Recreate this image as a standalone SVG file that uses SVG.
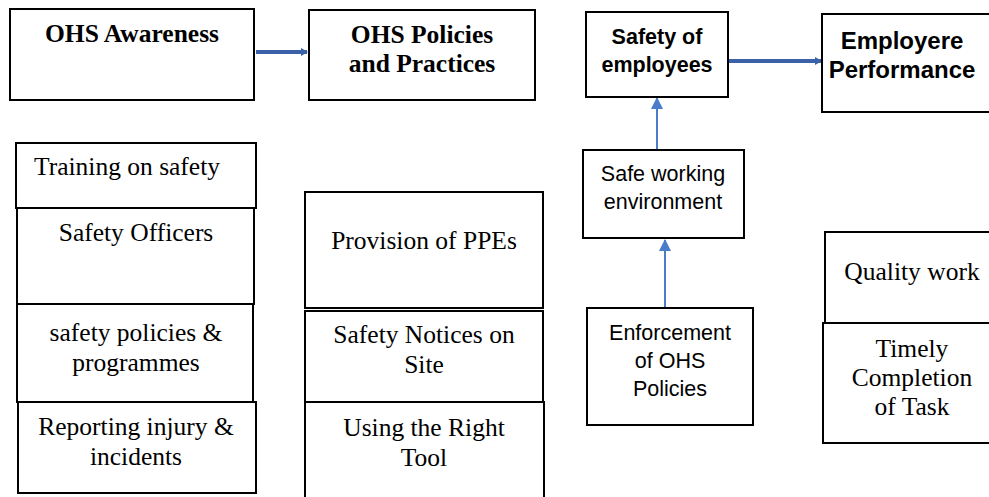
<svg xmlns="http://www.w3.org/2000/svg" width="989" height="497" viewBox="0 0 989 497">
<style>
.box{fill:#fff;stroke:#000;stroke-width:2}
.t{font-family:"Liberation Serif","Times New Roman",serif;font-size:25.5px;fill:#000;text-anchor:middle}
.b{font-weight:bold}
.s{font-family:"Liberation Sans",Arial,sans-serif;font-size:21.5px;fill:#000;text-anchor:middle}
.l{font-size:24px}
.thick{stroke:#3b62a8;stroke-width:4;fill:none}
.thin{stroke:#4a7cc9;stroke-width:2;fill:none}
</style>
<defs>
<marker id="ah" markerWidth="7" markerHeight="8" refX="6" refY="4" orient="auto" markerUnits="userSpaceOnUse"><path d="M0,0 L7,4 L0,8 Z" fill="#3b62a8"/></marker>
<marker id="ah2" markerWidth="12" markerHeight="12" refX="11" refY="6" orient="auto" markerUnits="userSpaceOnUse"><path d="M0,0 L12,6 L0,12 Z" fill="#4a7cc9"/></marker>
</defs>
<g id="connectors">
<line class="thick" x1="256" y1="52" x2="307" y2="52" marker-end="url(#ah)"/>
<line class="thick" x1="729" y1="61" x2="821" y2="61" marker-end="url(#ah)"/>
<line class="thin" x1="657" y1="150" x2="657" y2="98" marker-end="url(#ah2)"/>
<line class="thin" x1="665" y1="307" x2="665" y2="240" marker-end="url(#ah2)"/>
</g>
<g id="ohs-awareness"><rect class="box" x="10" y="9" width="244" height="91"/><text class="t b" x="132" y="42">OHS Awareness</text></g>
<g id="ohs-policies"><rect class="box" x="309" y="10" width="226" height="90"/><text class="t b" x="422" y="43">OHS Policies</text><text class="t b" x="422" y="72">and Practices</text></g>
<g id="safety-employees"><rect class="box" x="586" y="12" width="142" height="85"/><text class="s b" x="657" y="44">Safety of</text><text class="s b" x="657" y="72">employees</text></g>
<g id="employee-performance"><rect class="box" x="822" y="14" width="180" height="98"/><text class="s b l" x="902" y="49">Employere</text><text class="s b l" x="902" y="78">Performance</text></g>
<g id="safe-working"><rect class="box" x="583" y="150" width="161" height="88"/><text class="s" x="663" y="181">Safe working</text><text class="s" x="663" y="209">environment</text></g>
<g id="enforcement"><rect class="box" x="587" y="308" width="166" height="117"/><text class="s" x="670" y="340">Enforcement</text><text class="s" x="670" y="368">of OHS</text><text class="s" x="670" y="396">Policies</text></g>
<g id="quality-work"><rect class="box" x="825" y="232" width="180" height="91"/><text class="t" x="912" y="280">Quality work</text></g>
<g id="timely"><rect class="box" x="823" y="323" width="180" height="120"/><text class="t" x="912" y="357">Timely</text><text class="t" x="912" y="386">Completion</text><text class="t" x="912" y="415">of Task</text></g>
<g id="training"><rect class="box" x="16" y="143" width="240" height="65"/><text class="t" x="127" y="175">Training on safety</text></g>
<g id="safety-officers"><rect class="box" x="17" y="208" width="237" height="96"/><text class="t" x="136" y="241">Safety Officers</text></g>
<g id="safety-policies"><rect class="box" x="17" y="304" width="236" height="98"/><text class="t" x="136" y="341">safety policies &amp;</text><text class="t" x="136" y="371">programmes</text></g>
<g id="reporting"><rect class="box" x="18" y="402" width="238" height="91"/><text class="t" x="136" y="435">Reporting injury &amp;</text><text class="t" x="136" y="465">incidents</text></g>
<g id="provision"><rect class="box" x="305" y="192" width="238" height="116"/><text class="t" x="424" y="249">Provision of PPEs</text></g>
<g id="safety-notices"><rect class="box" x="305" y="311" width="238" height="91"/><text class="t" x="424" y="343">Safety Notices on</text><text class="t" x="424" y="373">Site</text></g>
<g id="right-tool"><rect class="box" x="305" y="402" width="239" height="110"/><text class="t" x="424" y="436">Using the Right</text><text class="t" x="424" y="466">Tool</text></g>
</svg>
